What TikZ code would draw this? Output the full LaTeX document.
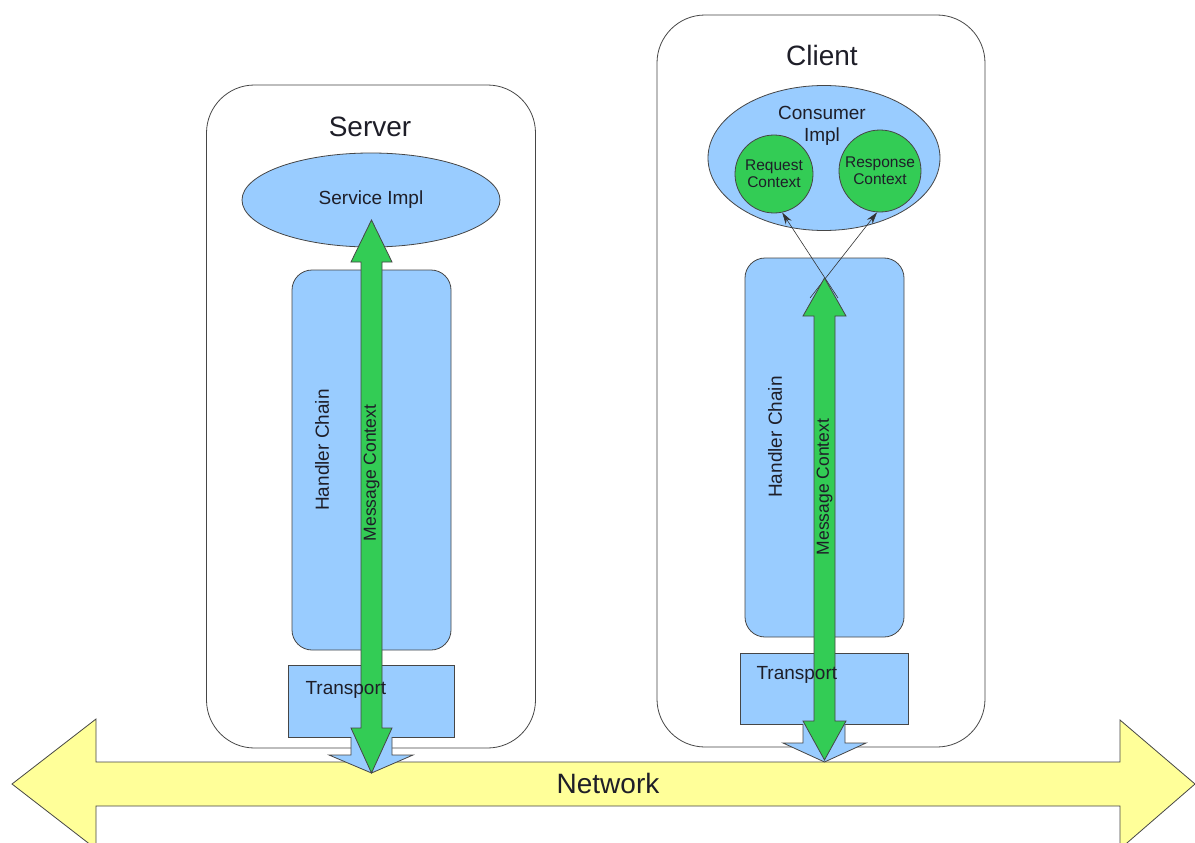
\documentclass[tikz,border=0pt]{standalone}
\usepackage{fontspec}
\setmainfont{Liberation Sans}
\usepackage{tikz}
\usetikzlibrary{shapes.geometric}
\usetikzlibrary{arrows.meta}
\definecolor{box-blue}{RGB}{153, 204, 255}
\definecolor{context-green}{RGB}{51, 204, 85}
\definecolor{network-yellow}{RGB}{255, 255, 153}
\definecolor{line-gray}{RGB}{70, 70, 70}
\definecolor{text-dark}{RGB}{30, 30, 40}
\tikzset{
  hostbox/.style={draw=line-gray,line width=0.8pt,fill=white,rounded corners=48pt,inner sep=0pt},
  implshape/.style={ellipse,draw=line-gray,line width=0.8pt,fill=box-blue,inner sep=0pt},
  chainbox/.style={draw=line-gray,line width=0.8pt,fill=box-blue,rounded corners=20pt,inner sep=0pt},
  transportbox/.style={draw=line-gray,line width=0.8pt,fill=box-blue,inner sep=0pt},
  contextcircle/.style={circle,draw=line-gray,line width=0.8pt,fill=context-green,inner sep=0pt,align=center,font=\fontsize{15.5}{17}\selectfont,text=text-dark},
  bigtext/.style={font=\fontsize{28}{32}\selectfont,text=text-dark},
  midtext/.style={font=\fontsize{19}{22}\selectfont,text=text-dark,align=center},
  msgtext/.style={font=\fontsize{17.5}{20}\selectfont,text=text-dark,rotate=90},
  shapeline/.style={draw=line-gray,line width=0.8pt},
  pointer/.style={black!80,line width=0.6pt,-{Stealth[length=12pt,width=7pt]}}
}
\begin{document}
\begin{tikzpicture}[x=1pt,y=-1pt]
   \useasboundingbox (0,0) rectangle (1195,843);
   \fill[white] (0,0) rectangle (1195,843);
   % network
   \draw[shapeline,fill=network-yellow] (12,784) -- (96,719) -- (96,762) -- (1120,762) -- (1120,720) -- (1195,784) -- (1120,849) -- (1120,806) -- (96,806) -- (96,849) -- cycle;
   \node[bigtext] (network) at (608,783) {Network};
   % server side
   \node[hostbox,minimum width=329pt,minimum height=663pt] (server) at (371,416.5) {};
   \node[bigtext] (serverlabel) at (370,127) {Server};
   \node[implshape,minimum width=258pt,minimum height=94pt,midtext] (service) at (371,200) {Service Impl};
   \node[chainbox,minimum width=159pt,minimum height=380pt] (srvchain) at (371.5,460) {};
   \node[transportbox,minimum width=166pt,minimum height=72pt] (srvtransport) at (371,701) {};
   \node[midtext,rotate=90] (srvchainlabel) at (322,450) {Handler Chain};
   \draw[shapeline,fill=box-blue] (351,737) -- (351,755) -- (329,755) -- (371.5,773) -- (413,755) -- (392,755) -- (392,737);
   \draw[shapeline,fill=context-green] (371.5,220) -- (392,262) -- (382,262) -- (382,728) -- (392,728) -- (371.5,773) -- (351,728) -- (361,728) -- (361,262) -- (351,262) -- cycle;
   \node[msgtext] (srvmsg) at (371.5,473) {Message Context};
   \node[midtext,anchor=west] (srvtransportlabel) at (302,690) {Transport};
   % client side
   \node[hostbox,minimum width=328pt,minimum height=732pt] (client) at (821,381) {};
   \node[bigtext] (clientlabel) at (822,55) {Client};
   \node[implshape,minimum width=232pt,minimum height=145pt] (consumer) at (824,158) {};
   \node[midtext] (consumerlabel) at (822,126) {Consumer\\Impl};
   \node[contextcircle,minimum size=78pt] (request) at (774,174) {Request\\Context};
   \node[contextcircle,minimum size=82pt] (response) at (880,171) {Response\\Context};
   \node[chainbox,minimum width=159pt,minimum height=379pt] (cltchain) at (824.5,447.5) {};
   \node[transportbox,minimum width=168pt,minimum height=71pt] (clttransport) at (824,688.5) {};
   \node[midtext,rotate=90] (cltchainlabel) at (775,437) {Handler Chain};
   \draw[shapeline,fill=box-blue] (803,724) -- (803,743) -- (783,743) -- (824.5,762) -- (866,743) -- (845,743) -- (845,724);
   \coordinate (reqstart) at (838,298);
   \coordinate (respstart) at (810,298);
   \draw[pointer] (reqstart) -- (request.-78);
   \draw[pointer] (respstart) -- (response.-94);
   \draw[shapeline,fill=context-green] (824.5,278) -- (846,316) -- (835,316) -- (835,721) -- (846,721) -- (824.5,760) -- (803,721) -- (814,721) -- (814,316) -- (803,316) -- cycle;
   \node[msgtext] (cltmsg) at (824.5,487) {Message Context};
   \node[midtext,anchor=west] (clttransportlabel) at (753,675) {Transport};
\end{tikzpicture}
\end{document}
